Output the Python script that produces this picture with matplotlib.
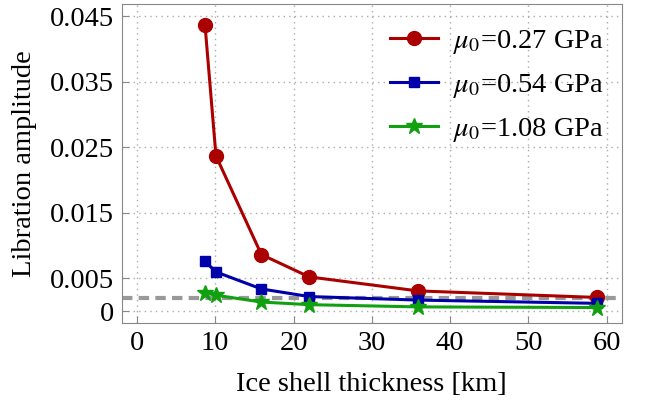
import matplotlib
matplotlib.use("Agg")
import matplotlib.pyplot as plt

plt.rcParams['font.family'] = ['Liberation Serif', 'DejaVu Serif']
plt.rcParams['mathtext.fontset'] = 'stix'

thickness = [8.7, 10.1, 15.9, 22.0, 35.9, 58.8]
amp_027 = [0.0437, 0.0237, 0.00865, 0.00524, 0.0031, 0.0021]
amp_054 = [0.0076, 0.0060, 0.0034, 0.00224, 0.0017, 0.0012]
amp_108 = [0.00285, 0.00244, 0.0014, 0.0010, 0.00066, 0.00056]
threshold = 0.00203
labels = [r'$\mu_0$=0.27 GPa', r'$\mu_0$=0.54 GPa', r'$\mu_0$=1.08 GPa']
yticks = [0, 0.005, 0.015, 0.025, 0.035, 0.045]
yticklabels = ['0', '0.005', '0.015', '0.025', '0.035', '0.045']
xticks = [0, 10, 20, 30, 40, 50, 60]

fig = plt.figure(figsize=(6.62, 4.01), dpi=100)
ax = fig.add_axes([0.1843, 0.1945, 0.7547, 0.7955])

ax.axhline(threshold, color='#999999', lw=3, ls=(0, (2.5, 1.5)), zorder=1)
ax.plot(thickness, amp_027, '-o', color='#aa0000', lw=2.2, ms=10, label=labels[0], zorder=3)
ax.plot(thickness, amp_054, '-s', color='#0000aa', lw=2.2, ms=7, label=labels[1], zorder=3)
ax.plot(thickness, amp_108, '-*', color='#10a010', lw=2.2, ms=12, label=labels[2], zorder=3)

ax.set_xlim(-1.9, 61.9)
ax.set_ylim(-0.0018, 0.0469)
ax.set_xticks(xticks)
ax.set_yticks(yticks)
ax.set_yticklabels(yticklabels)
ax.grid(True, color='#aaaaaa', ls=(0, (1, 3)), lw=1)
ax.tick_params(direction='in', length=5, color='#888888', labelsize=20.5, pad=6)
for s in ax.spines.values():
    s.set_color('#888888')

ax.set_xlabel('Ice shell thickness [km]', fontsize=20.5, labelpad=11)
ax.set_ylabel('Libration amplitude', fontsize=20.5, labelpad=9)

ax.legend(loc='upper right', bbox_to_anchor=(1.012, 1.0), frameon=False,
          fontsize=20.5, handlelength=1.7, labelspacing=0.55,
          borderaxespad=0.45, handletextpad=0.5)

fig.savefig('out.png', dpi=100)
